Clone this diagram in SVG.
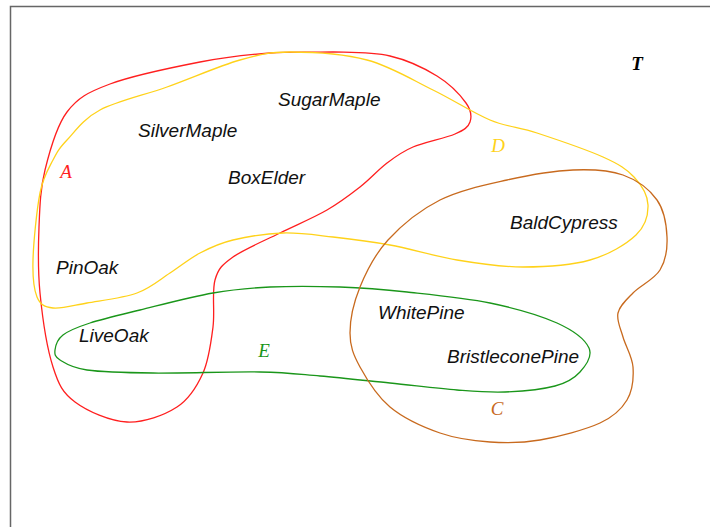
<svg xmlns="http://www.w3.org/2000/svg" width="710" height="527" viewBox="0 0 710 527">
<style>
.set{fill:none;stroke-width:1.3}
.item{font-family:"Liberation Sans",Arial,sans-serif;font-style:italic;font-size:19px;fill:#111}
.lab{font-family:"Liberation Serif","Times New Roman",serif;font-style:italic;font-size:19px}
</style>
<rect x="0" y="0" width="710" height="527" fill="#fff"/>
<rect x="10.5" y="6.5" width="760" height="560" fill="none" stroke="#666" stroke-width="1.5"/>
<g id="A">
<path class="set" stroke="#ff1f1f" d="M 333,52 C 353,52.5 372.7,52 390,56 C 407.3,60 424.3,68.2 437,76 C 449.7,83.8 460.5,95.3 466,103 C 471.5,110.7 471.8,116.8 470,122 C 468.2,127.2 464.5,129.8 455,134 C 445.5,138.2 424.3,142.2 413,147 C 401.7,151.8 395.8,156.3 387,163 C 378.2,169.7 370,179.2 360,187 C 350,194.8 340.3,202.3 327,210 C 313.7,217.7 295.7,225.2 280,233 C 264.3,240.8 243.8,249.2 233,257 C 222.2,264.8 218.3,268.3 215,280 C 211.7,291.7 215,311.5 213,327 C 211,342.5 209,359.7 203,373 C 197,386.3 189.7,398.8 177,407 C 164.3,415.2 144,422.8 127,422 C 110,421.2 87.3,411.2 75,402 C 62.7,392.8 58.8,385.2 53,367 C 47.2,348.8 42.3,316.3 40,293 C 37.7,269.7 38.2,247.5 39,227 C 39.8,206.5 40.3,189.2 45,170 C 49.7,150.8 56.2,126.3 67,112 C 77.8,97.7 87.8,92.3 110,84 C 132.2,75.7 173.3,67.2 200,62 C 226.7,56.8 247.8,54.7 270,53 C 292.2,51.3 313,52.5 333,52 Z"/>
<text class="lab" x="66" y="178" text-anchor="middle" fill="#ff1f1f">A</text>
</g>
<g id="D">
<path class="set" stroke="#ffd21a" d="M 290,52 C 311.2,52 343.2,53.7 367,60 C 390.8,66.3 412.5,80 433,90 C 453.5,100 472.7,112.8 490,120 C 507.3,127.2 518.2,126.8 537,133 C 555.8,139.2 586.8,149.7 603,157 C 619.2,164.3 626.5,169 634,177 C 641.5,185 647.7,195.3 648,205 C 648.3,214.7 645.7,225.8 636,235 C 626.3,244.2 608.8,254.7 590,260 C 571.2,265.3 545.2,267 523,267 C 500.8,267 479.2,263.7 457,260 C 434.8,256.3 410.7,248.8 390,245 C 369.3,241.2 350.8,239 333,237 C 315.2,235 299.7,232.5 283,233 C 266.3,233.5 246.8,236.7 233,240 C 219.2,243.3 210.5,247.5 200,253 C 189.5,258.5 180.5,266.3 170,273 C 159.5,279.7 150.8,288 137,293 C 123.2,298 101,300.5 87,303 C 73,305.5 61.3,309 53,308 C 44.7,307 40.3,305 37,297 C 33.7,289 32.5,277.3 33,260 C 33.5,242.7 36.7,209.7 40,193 C 43.3,176.3 48.5,168.8 53,160 C 57.5,151.2 59.2,148.3 67,140 C 74.8,131.7 83.3,118.8 100,110 C 116.7,101.2 143.7,95.3 167,87 C 190.3,78.7 219.5,65.8 240,60 C 260.5,54.2 268.8,52 290,52 Z"/>
<text class="lab" x="498" y="152" text-anchor="middle" fill="#ffd21a">D</text>
</g>
<g id="E">
<path class="set" stroke="#1a961a" d="M 55,350 C 55.5,345.8 57.2,339.5 63,335 C 68.8,330.5 77.2,327.2 90,323 C 102.8,318.8 119.5,315 140,310 C 160.5,305 191.3,296.8 213,293 C 234.7,289.2 248.8,288 270,287 C 291.2,286 317.2,286.2 340,287 C 362.8,287.8 382,289.3 407,292 C 432,294.7 465,297.8 490,303 C 515,308.2 540.5,315.5 557,323 C 573.5,330.5 585.2,339.8 589,348 C 592.8,356.2 585.7,365.7 580,372 C 574.3,378.3 567.5,382.7 555,386 C 542.5,389.3 521.3,391.3 505,392 C 488.7,392.7 476.2,391.5 457,390 C 437.8,388.5 412.8,385.3 390,383 C 367.2,380.7 341.7,377.8 320,376 C 298.3,374.2 287.8,372.5 260,372 C 232.2,371.5 181.8,373.3 153,373 C 124.2,372.7 102.5,372.2 87,370 C 71.5,367.8 65.3,363.3 60,360 C 54.7,356.7 54.5,354.2 55,350 Z"/>
<text class="lab" x="264" y="357" text-anchor="middle" fill="#1a961a">E</text>
</g>
<g id="C">
<path class="set" stroke="#c86a1e" stroke-width="1.1" d="M 350,333 C 350,319.7 353.7,302.5 360,287 C 366.3,271.5 374.7,254.5 388,240 C 401.3,225.5 420.2,210 440,200 C 459.8,190 484.8,185 507,180 C 529.2,175 553.7,170.8 573,170 C 592.3,169.2 609,170 623,175 C 637,180 649.7,189.7 657,200 C 664.3,210.3 666.5,225.3 667,237 C 667.5,248.7 665.7,260.7 660,270 C 654.3,279.3 640,285.8 633,293 C 626,300.2 619.7,305.7 618,313 C 616.3,320.3 620.5,328 623,337 C 625.5,346 632.3,356.5 633,367 C 633.7,377.5 632.5,390.7 627,400 C 621.5,409.3 614.5,416.3 600,423 C 585.5,429.7 558.3,436.8 540,440 C 521.7,443.2 506.7,443.2 490,442 C 473.3,440.8 456.7,438.8 440,433 C 423.3,427.2 403.3,418 390,407 C 376.7,396 366.7,379.3 360,367 C 353.3,354.7 350,346.3 350,333 Z"/>
<text class="lab" x="497" y="415" text-anchor="middle" fill="#c86a1e">C</text>
</g>
<g id="T">
<text class="lab" x="637" y="70" text-anchor="middle" fill="#000" font-weight="bold">T</text>
</g>
<g id="items">
<text class="item" x="278" y="106">SugarMaple</text>
<text class="item" x="138" y="137">SilverMaple</text>
<text class="item" x="228" y="184">BoxElder</text>
<text class="item" x="510" y="229">BaldCypress</text>
<text class="item" x="56" y="274">PinOak</text>
<text class="item" x="378" y="319">WhitePine</text>
<text class="item" x="79" y="342">LiveOak</text>
<text class="item" x="447" y="363">BristleconePine</text>
</g>
<g id="connectors"/>
</svg>
